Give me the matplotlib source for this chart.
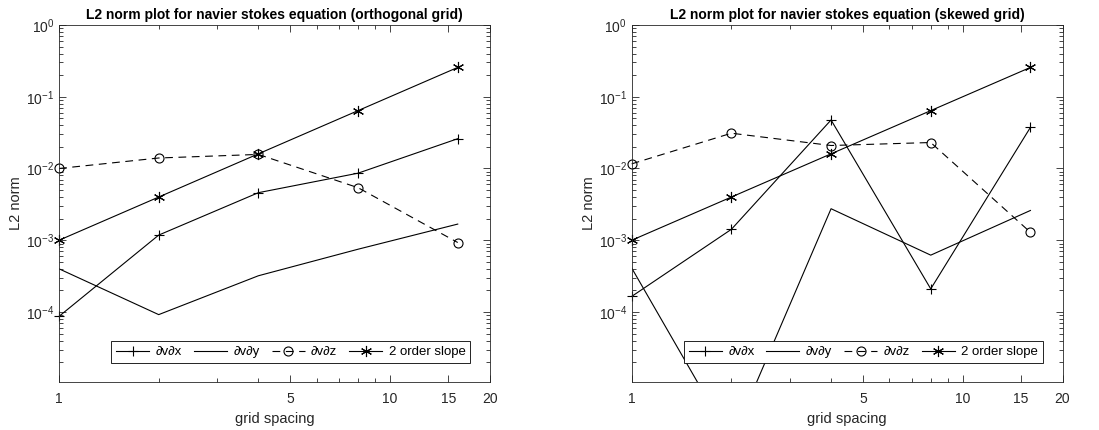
import matplotlib
matplotlib.use("Agg")
import matplotlib.pyplot as plt
from matplotlib.ticker import FixedLocator, NullFormatter, LogLocator

plt.rcParams['font.family'] = ['Liberation Sans', 'DejaVu Sans']
plt.rcParams['mathtext.fontset'] = 'custom'
plt.rcParams['mathtext.rm'] = 'Liberation Sans'

# %% Data.
spacing = [1, 2, 4, 8, 16]
slope2 = [1e-3, 4e-3, 1.6e-2, 6.4e-2, 2.56e-1]

orth_dx = [8.7e-5, 1.18e-3, 4.6e-3, 8.6e-3, 2.6e-2]
orth_dy = [4.0e-4, 9.2e-5, 3.2e-4, 7.5e-4, 1.68e-3]
orth_dz = [1.0e-2, 1.4e-2, 1.57e-2, 5.4e-3, 9.3e-4]

skew_dx = [1.65e-4, 1.42e-3, 4.74e-2, 2.1e-4, 3.74e-2]
skew_dy = [4.1e-4, 1.6e-6, 2.75e-3, 6.2e-4, 2.6e-3]
skew_dz = [1.16e-2, 3.1e-2, 2.09e-2, 2.3e-2, 1.29e-3]

titles = ["L2 norm plot for navier stokes equation (orthogonal grid)",
          "L2 norm plot for navier stokes equation (skewed grid)"]
labels = ["\u2202v\u2202x", "\u2202v\u2202y", "\u2202v\u2202z", "2 order slope"]
xticks = [1, 5, 10, 15, 20]

# %% Plot.
fig = plt.figure(figsize=(10.99, 4.30), dpi=100)
ax_pos = [[0.0537, 0.111, 0.392, 0.831], [0.5748, 0.111, 0.392, 0.831]]
sets = [(orth_dx, orth_dy, orth_dz), (skew_dx, skew_dy, skew_dz)]
gray = '#262626'
asterisk = (6, 2, 0)

for pos, (dx, dy, dz), title in zip(ax_pos, sets, titles):
    ax = fig.add_axes(pos)
    lw = 0.8
    ax.plot(spacing, dx, color='k', lw=lw, marker='+', ms=7.5, mew=0.8,
            label=labels[0], clip_on=False)
    ax.plot(spacing, dy, color='k', lw=lw, label=labels[1])
    ax.plot(spacing, dz, color='k', lw=lw, ls=(0, (7, 5)), marker='o', ms=6.5,
            mfc='none', mew=0.8, label=labels[2], clip_on=False)
    ax.plot(spacing, slope2, color='k', lw=lw, marker=asterisk, ms=8, mew=0.8,
            label=labels[3], clip_on=False)

    ax.set_xscale('log')
    ax.set_yscale('log')
    ax.set_xlim(1, 20)
    ax.set_ylim(1.05e-5, 1)
    ax.xaxis.set_major_locator(FixedLocator(xticks))
    ax.set_xticklabels([str(t) for t in xticks])
    ax.xaxis.set_minor_locator(FixedLocator([2, 3, 4, 6, 7, 8, 9]))
    ax.xaxis.set_minor_formatter(NullFormatter())
    ax.yaxis.set_major_locator(LogLocator(base=10, numticks=10))
    ax.yaxis.set_minor_locator(LogLocator(base=10, subs=range(2, 10), numticks=20))
    ax.yaxis.set_minor_formatter(NullFormatter())
    ax.tick_params(which='both', direction='in', top=True, right=True,
                   colors=gray, labelsize=10, width=0.6)
    ax.tick_params(which='major', length=5)
    ax.tick_params(which='minor', length=3)
    ax.tick_params(axis='x', pad=7)
    for s in ax.spines.values():
        s.set_color(gray)
        s.set_linewidth(0.6)

    ax.set_xlabel('grid spacing', fontsize=10.5, color=gray)
    ax.set_ylabel('L2 norm', fontsize=10.5, color=gray, labelpad=2)
    ax.set_title(title, fontsize=10, fontweight='bold', pad=4)
    leg = ax.legend(ncol=4, loc='lower right', bbox_to_anchor=(0.97, 0.036),
                    fontsize=9.5, fancybox=False, framealpha=1, edgecolor='k',
                    handlelength=2.5, columnspacing=0.9, handletextpad=0.5,
                    borderpad=0.35)
    leg.get_frame().set_linewidth(0.6)

plt.savefig("out.png", dpi=100)
